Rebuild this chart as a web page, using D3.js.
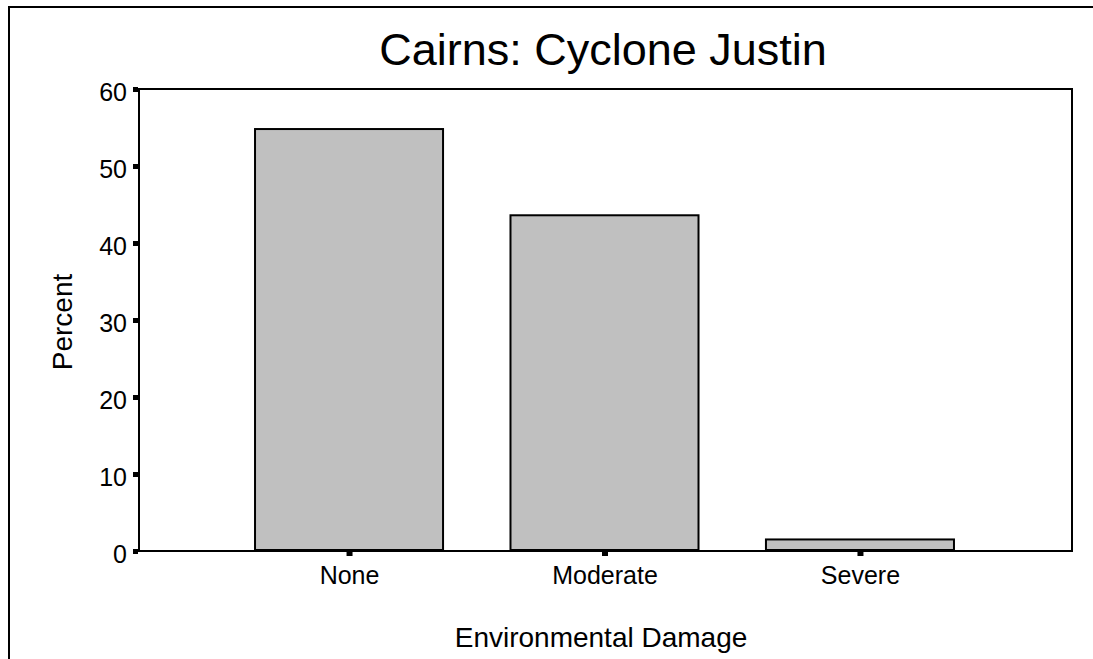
<!DOCTYPE html>
<html>
<head>
<meta charset="utf-8">
<script src="https://cdn.jsdelivr.net/npm/d3@7"></script>
<style>
  html, body { margin: 0; padding: 0; background: #fff; }
  svg { display: block; }
  text { font-family: "Liberation Sans", Arial, Helvetica, sans-serif; fill: #000; }
</style>
</head>
<body>
<svg id="chart" width="1093" height="659"></svg>
<script>
// ---- data ----
const categories = ["None", "Moderate", "Severe"];
const percentValues = [54.8, 43.6, 1.5];
const yTickValues = [0, 10, 20, 30, 40, 50, 60];
const chartTitle = "Cairns: Cyclone Justin";
const xAxisTitle = "Environmental Damage";
const yAxisTitle = "Percent";

// ---- layout ----
const W = 1093, H = 659;
const plot = { left: 139, top: 89, right: 1072, bottom: 551 };

const svg = d3.select("#chart");

// outer border (extends past the right/bottom edge)
svg.append("rect")
  .attr("x", 9).attr("y", 7)
  .attr("width", W + 20).attr("height", H + 20)
  .attr("fill", "none").attr("stroke", "#000").attr("stroke-width", 2);

const x = d3.scalePoint()
  .domain(categories)
  .range([137, plot.right])
  .padding(0.83);

const y = d3.scaleLinear()
  .domain([0, 60])
  .range([plot.bottom, plot.top]);

const barWidth = x.step() * 0.736;

// bars
svg.append("g").selectAll("rect")
  .data(categories.map((c, i) => ({ c, v: percentValues[i] })))
  .join("rect")
  .attr("x", d => x(d.c) - barWidth / 2)
  .attr("y", d => y(d.v))
  .attr("width", barWidth)
  .attr("height", d => y(0) - y(d.v) - 1)
  .attr("fill", "#c0c0c0")
  .attr("stroke", "#000")
  .attr("stroke-width", 2);

// plot frame
svg.append("rect")
  .attr("x", plot.left).attr("y", plot.top)
  .attr("width", plot.right - plot.left)
  .attr("height", plot.bottom - plot.top)
  .attr("fill", "none").attr("stroke", "#000").attr("stroke-width", 2);

// y axis
const yAxis = svg.append("g")
  .attr("transform", `translate(${plot.left - 1},0)`)
  .call(d3.axisLeft(y).tickValues(yTickValues).tickSize(5).tickPadding(6).tickFormat(d3.format("d")));
yAxis.select(".domain").remove();
yAxis.selectAll(".tick line").attr("stroke", "#000").attr("stroke-width", 5);
yAxis.selectAll(".tick text")
  .attr("font-size", 25)
  .attr("dy", "0.45em")
  .style("font-family", '"Liberation Sans", Arial, sans-serif');

// x axis
const xAxis = svg.append("g")
  .attr("transform", `translate(0,${plot.bottom})`)
  .call(d3.axisBottom(x).tickSize(5).tickPadding(0));
xAxis.select(".domain").remove();
xAxis.selectAll(".tick line").attr("stroke", "#000").attr("stroke-width", 6);
xAxis.selectAll(".tick text")
  .attr("font-size", 25)
  .attr("y", 33)
  .attr("dy", 0)
  .style("font-family", '"Liberation Sans", Arial, sans-serif');

// title
svg.append("text")
  .attr("x", 603).attr("y", 65)
  .attr("text-anchor", "middle")
  .attr("font-size", 45)
  .text(chartTitle);

// axis titles
svg.append("text")
  .attr("x", 601).attr("y", 647)
  .attr("text-anchor", "middle")
  .attr("font-size", 28)
  .text(xAxisTitle);

svg.append("text")
  .attr("transform", "translate(72,322) rotate(-90)")
  .attr("text-anchor", "middle")
  .attr("font-size", 28)
  .text(yAxisTitle);
</script>
</body>
</html>
